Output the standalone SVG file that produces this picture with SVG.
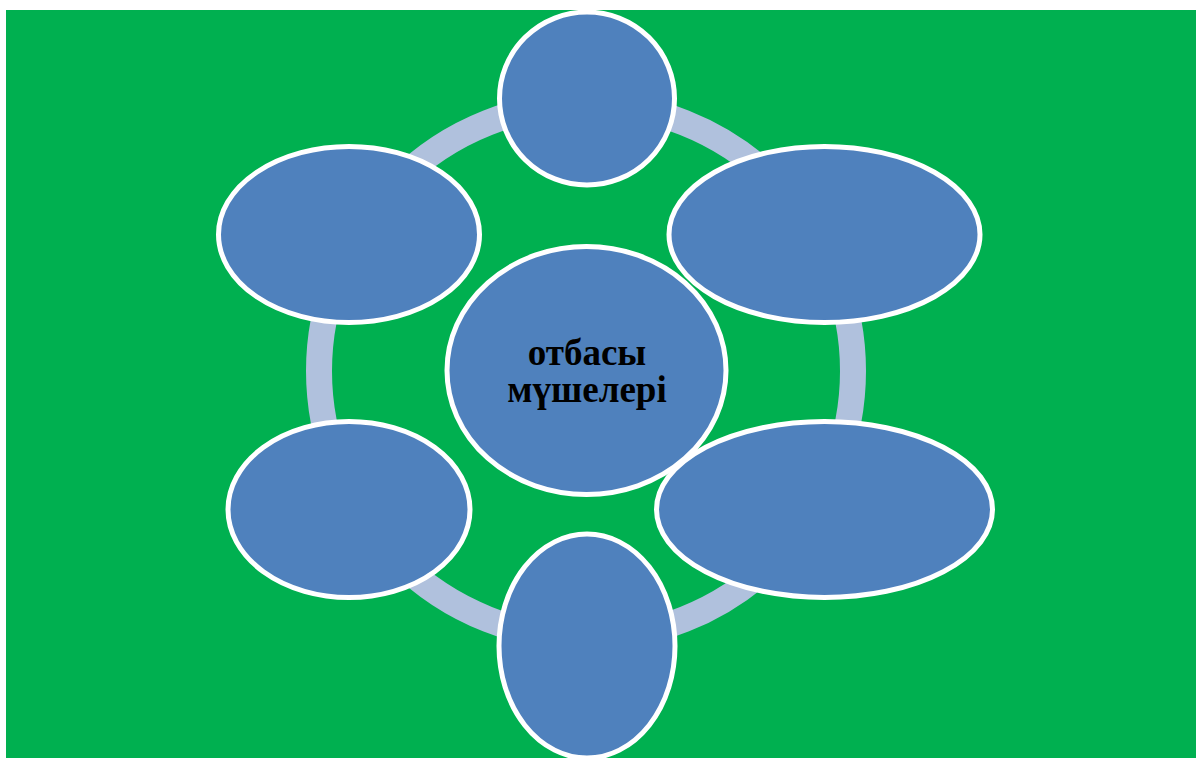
<svg xmlns="http://www.w3.org/2000/svg" width="1196" height="758" viewBox="0 0 1196 758">
  <style>
    .node { fill: #4F81BD; stroke: #FFFFFF; stroke-width: 5; }
    .ring { fill: none; stroke: #B0C1DD; stroke-width: 26; }
    .label { font-family: "Liberation Serif", "Times New Roman", serif; font-weight: bold; font-size: 37px; fill: #000000; text-anchor: middle; }
  </style>
  <rect x="0" y="0" width="1196" height="758" fill="#FFFFFF"/>
  <rect x="6" y="10" width="1190" height="748" fill="#00B050"/>
  <g id="connectors">
    <circle class="ring" cx="586" cy="371" r="267"/>
  </g>
  <g id="node-center">
    <ellipse class="node" cx="586.5" cy="370.5" rx="139.5" ry="124"/>
    <text class="label" x="587" y="365">отбасы</text>
    <text class="label" x="587" y="402">мүшелері</text>
  </g>
  <g id="node-top">
    <ellipse class="node" cx="587" cy="98.5" rx="87.5" ry="86.5"/>
  </g>
  <g id="node-top-left">
    <ellipse class="node" cx="349" cy="234.5" rx="130.5" ry="88"/>
  </g>
  <g id="node-top-right">
    <ellipse class="node" cx="824.5" cy="234.5" rx="155.5" ry="88"/>
  </g>
  <g id="node-bottom-left">
    <ellipse class="node" cx="349" cy="509.5" rx="121" ry="88"/>
  </g>
  <g id="node-bottom-right">
    <ellipse class="node" cx="824.5" cy="509.5" rx="168" ry="88"/>
  </g>
  <g id="node-bottom">
    <ellipse class="node" cx="587" cy="646" rx="88" ry="112"/>
  </g>
</svg>
